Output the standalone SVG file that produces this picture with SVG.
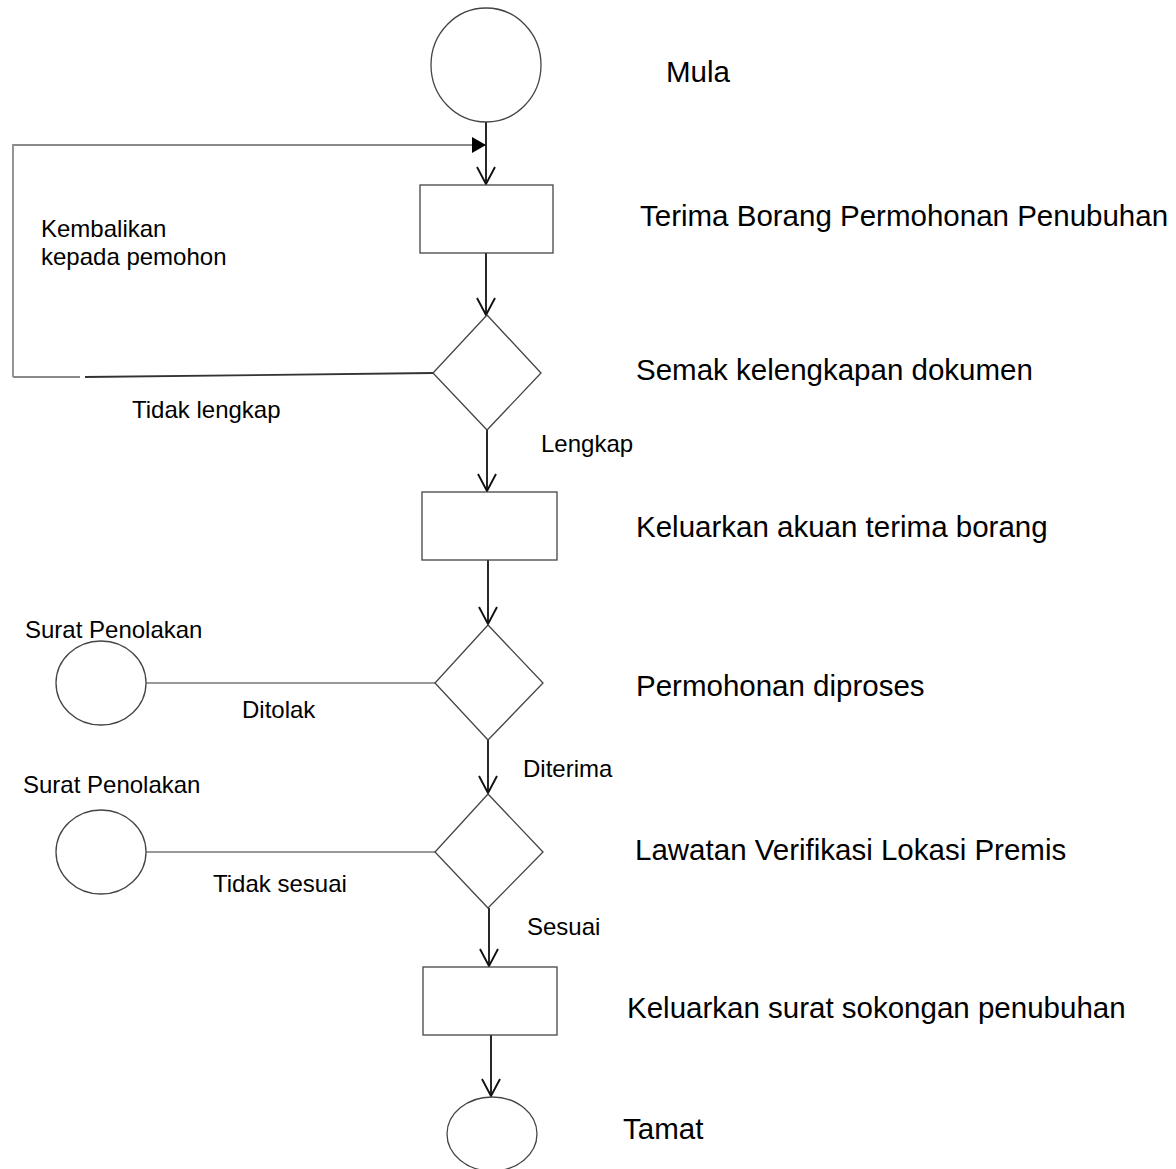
<svg xmlns="http://www.w3.org/2000/svg" width="1176" height="1169" viewBox="0 0 1176 1169">
<style>
.shape{fill:#fff;stroke:#444;stroke-width:1.3}
.conn{fill:none;stroke:#111;stroke-width:1.8}
.thin{fill:none;stroke:#333;stroke-width:1.2}
.loop{fill:none;stroke:#8a8a8a;stroke-width:1.8}
.big{font-family:"Liberation Sans",Arial,sans-serif;font-size:29.5px;fill:#000}
.small{font-family:"Liberation Sans",Arial,sans-serif;font-size:24px;fill:#000}
</style>
<defs>
<marker id="open" viewBox="0 0 20 20" refX="18" refY="10" markerWidth="20" markerHeight="20" markerUnits="userSpaceOnUse" orient="auto">
<path d="M1,1 L18,10 L1,19" fill="none" stroke="#111" stroke-width="1.9"/>
</marker>
<marker id="filled" viewBox="0 0 14 16" refX="14" refY="8" markerWidth="14" markerHeight="16" markerUnits="userSpaceOnUse" orient="auto">
<path d="M0,0 L14,8 L0,16 Z" fill="#000"/>
</marker>
</defs>
<rect width="1176" height="1169" fill="#fff"/>
<g id="connectors">
<path class="loop" d="M13,377 L80,377"/>
<path class="loop" d="M85,377 L433,373" style="stroke:#333"/>
<path class="loop" d="M13,377 L13,145 L486,145" marker-end="url(#filled)"/>
<path class="conn" d="M486,122 L486,184" marker-end="url(#open)"/>
<path class="conn" d="M486,253 L486,315" marker-end="url(#open)"/>
<path class="conn" d="M487,430 L487,491" marker-end="url(#open)"/>
<path class="conn" d="M488,560 L488,624" marker-end="url(#open)"/>
<path class="conn" d="M488,740 L488,793" marker-end="url(#open)"/>
<path class="conn" d="M489,908 L489,966" marker-end="url(#open)"/>
<path class="conn" d="M491,1035 L491,1096" marker-end="url(#open)"/>
<path class="thin" d="M146,683 L435,683"/>
<path class="thin" d="M146,852 L435,852"/>
</g>
<g id="start"><ellipse class="shape" cx="486" cy="65" rx="55" ry="57"/><text class="big" x="666" y="82">Mula</text></g>
<g id="terima"><rect class="shape" x="420" y="185" width="133" height="68"/><text class="big" x="640" y="226">Terima Borang Permohonan Penubuhan</text></g>
<g id="semak"><path class="shape" d="M487,315 L541,373 L487,430 L433,373 Z"/><text class="big" x="636" y="380">Semak kelengkapan dokumen</text></g>
<g id="akuan"><rect class="shape" x="422" y="492" width="135" height="68"/><text class="big" x="636" y="537">Keluarkan akuan terima borang</text></g>
<g id="proses"><path class="shape" d="M488,625 L543,683 L488,740 L435,683 Z"/><text class="big" x="636" y="696">Permohonan diproses</text></g>
<g id="lawatan"><path class="shape" d="M488,794 L543,852 L488,908 L435,852 Z"/><text class="big" x="635" y="860">Lawatan Verifikasi Lokasi Premis</text></g>
<g id="sokongan"><rect class="shape" x="423" y="967" width="134" height="68"/><text class="big" x="627" y="1018">Keluarkan surat sokongan penubuhan</text></g>
<g id="tamat"><ellipse class="shape" cx="492" cy="1134" rx="45" ry="37"/><text class="big" x="623" y="1139">Tamat</text></g>
<g id="tolak1"><ellipse class="shape" cx="101" cy="683" rx="45" ry="42"/><text class="small" x="25" y="638">Surat Penolakan</text></g>
<g id="tolak2"><ellipse class="shape" cx="101" cy="852" rx="45" ry="42"/><text class="small" x="23" y="793">Surat Penolakan</text></g>
<g id="labels">
<text class="small" x="41" y="237">Kembalikan</text>
<text class="small" x="41" y="265">kepada pemohon</text>
<text class="small" x="132" y="418">Tidak lengkap</text>
<text class="small" x="541" y="452">Lengkap</text>
<text class="small" x="242" y="718">Ditolak</text>
<text class="small" x="523" y="777">Diterima</text>
<text class="small" x="213" y="892">Tidak sesuai</text>
<text class="small" x="527" y="935">Sesuai</text>
</g>
</svg>
